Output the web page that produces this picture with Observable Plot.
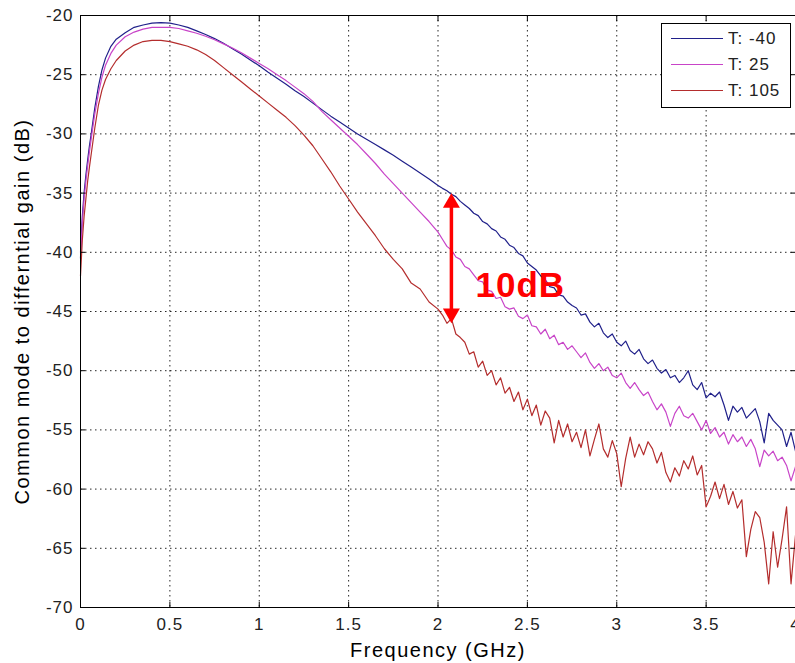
<!DOCTYPE html>
<html>
<head>
<meta charset="utf-8">
<script src="https://cdn.jsdelivr.net/npm/d3@7"></script>
<script src="https://cdn.jsdelivr.net/npm/@observablehq/plot@0.6"></script>
<style>
  html, body { margin: 0; padding: 0; background: #fff; }
  #wrap { position: relative; width: 795px; height: 663px; overflow: hidden; background: #fff;
          font-family: "Liberation Sans", Arial, sans-serif; }
  #legend { position: absolute; left: 661px; top: 23px; width: 128px; height: 83px;
            border: 1px solid #000; background: #fff; }
  .sw { position: absolute; left: 9px; width: 52px; height: 0; }
  .lb { position: absolute; left: 66px; height: 20px; line-height: 20px; font-size: 17px;
        letter-spacing: 1px; color: #222; white-space: nowrap; }
</style>
</head>
<body>
<div id="wrap"><div id="chart"></div><div id="legend"></div></div>
<script>
// ---- data ----
const freq = [
  0, 0.005, 0.01, 0.02, 0.03, 0.04, 0.05, 0.06, 0.08, 0.10, 0.12, 0.14, 0.17, 0.20,
  0.25, 0.30, 0.35, 0.40, 0.45, 0.50, 0.55, 0.60, 0.65, 0.70, 0.75, 0.80, 0.85, 0.90, 0.95, 1.00,
  1.05, 1.10, 1.15, 1.20, 1.25, 1.30, 1.35, 1.40, 1.45, 1.50, 1.55, 1.60, 1.65, 1.70, 1.75, 1.80,
  1.85, 1.90, 1.95, 2.00,
  2.025, 2.05, 2.075, 2.1, 2.125, 2.15, 2.175, 2.2, 2.225, 2.25,
  2.275, 2.3, 2.325, 2.35, 2.375, 2.4, 2.425, 2.45, 2.475, 2.5,
  2.525, 2.55, 2.575, 2.6, 2.625, 2.65, 2.675, 2.7, 2.725, 2.75,
  2.775, 2.8, 2.825, 2.85, 2.875, 2.9, 2.925, 2.95, 2.975, 3.0,
  3.025, 3.05, 3.075, 3.1, 3.125, 3.15, 3.175, 3.2, 3.225, 3.25,
  3.275, 3.3, 3.325, 3.35, 3.375, 3.4, 3.425, 3.45, 3.475, 3.5,
  3.525, 3.55, 3.575, 3.6, 3.625, 3.65, 3.675, 3.7, 3.725, 3.75,
  3.775, 3.8, 3.825, 3.85, 3.875, 3.9, 3.925, 3.95, 3.975, 4.0
];

const gainTm40 = [
  -40.5, -38.5, -37.0, -35.0, -33.5, -32.2, -31.0, -30.0, -27.8, -26.0, -24.6, -23.6, -22.6, -22.0,
  -21.45, -21.0, -20.8, -20.65, -20.6, -20.65, -20.8, -21.0, -21.3, -21.6, -21.95, -22.35, -22.8, -23.25, -23.75, -24.25,
  -24.8, -25.3, -25.8, -26.35, -26.85, -27.4, -27.95, -28.5, -29.0, -29.5, -30.0, -30.45, -30.9, -31.35, -31.8, -32.3,
  -32.8, -33.3, -33.8, -34.35,
  -34.6, -34.8, -35.1, -35.3, -35.7, -36.0, -36.3, -36.7, -36.9, -37.4,
  -37.6, -38.0, -38.2, -38.7, -38.9, -39.4, -39.6, -40.1, -40.3, -40.9,
  -41.2, -41.5, -42.0, -42.3, -42.9, -43.0, -43.6, -43.7, -44.2, -44.5,
  -44.7, -45.3, -45.2, -45.9, -46.3, -46.0, -46.8, -47.2, -46.9, -47.6,
  -47.9, -47.5, -48.3, -48.6, -48.2, -49.0, -49.4, -49.1, -49.8, -50.2,
  -49.9, -50.6, -50.4, -51.0, -50.6, -50.0, -51.2, -51.6, -51.0, -52.3,
  -51.9, -52.2, -51.8, -52.9, -54.2, -53.0, -53.5, -53.1, -54.0, -53.6,
  -53.2, -54.3, -56.1, -53.6, -54.2, -54.6, -55.0, -56.4, -55.2, -56.8
];

const gainT25 = [
  -40.0, -39.0, -37.5, -35.5, -34.0, -32.7, -31.5, -30.4, -28.3, -26.6, -25.2, -24.2, -23.2, -22.5,
  -21.8, -21.4, -21.15, -21.0, -21.0, -21.0, -21.1, -21.3, -21.5, -21.75, -22.05, -22.4, -22.75, -23.15, -23.6, -24.05,
  -24.5, -25.0, -25.5, -26.05, -26.6, -27.25, -28.1, -28.8, -29.5, -30.2, -30.9, -31.7, -32.5, -33.4, -34.2, -35.0,
  -35.8, -36.6, -37.4, -38.3,
  -38.9, -39.5, -39.8, -40.4, -40.6, -41.2, -41.4, -41.9, -42.4, -42.5,
  -43.2, -43.3, -43.9, -43.8, -44.6, -44.8, -44.7, -45.4, -45.6, -45.3,
  -46.2, -46.3, -46.9, -46.5, -47.3, -47.0, -47.8, -47.6, -48.2, -47.9,
  -48.4, -48.9, -48.5, -49.3, -49.8, -49.4, -50.0, -49.7, -50.4, -50.6,
  -50.2, -51.0, -51.5, -51.0, -51.6, -52.1, -51.8, -52.6, -53.3, -52.8,
  -53.5, -54.7, -53.6, -53.0, -53.8, -54.0, -53.6, -54.3, -55.0, -54.2,
  -55.3, -54.8, -55.6, -55.2, -56.2, -55.4, -56.0, -55.6, -56.4, -55.8,
  -56.6, -58.1, -56.7, -57.2, -56.8, -57.6, -57.3, -58.0, -59.3, -58.1
];

const gainT105 = [
  -42.0, -40.5, -39.0, -37.0, -35.5, -34.0, -32.8, -31.7, -29.5, -27.6, -26.3, -25.4, -24.5, -23.8,
  -23.0, -22.5, -22.2, -22.1, -22.1, -22.2, -22.4, -22.6, -22.9, -23.3, -23.8, -24.4, -25.0, -25.6, -26.2, -26.8,
  -27.4, -28.0, -28.6, -29.3, -30.1, -31.0, -32.1, -33.2, -34.4, -35.5, -36.6, -37.6, -38.6, -39.7, -40.6, -41.4,
  -42.6, -43.1, -44.2, -44.8,
  -45.3, -46.0, -45.6, -46.9, -47.2, -47.6, -48.6, -48.4, -49.7, -49.2,
  -50.4, -50.0, -51.2, -50.6, -51.9, -51.4, -52.6, -51.8, -53.3, -52.4,
  -53.8, -52.9, -54.6, -53.4, -54.0, -56.1, -54.2, -55.6, -54.5, -56.0,
  -55.2, -56.5, -55.0, -57.2, -55.8, -54.5, -56.6, -57.3, -55.9, -57.0,
  -59.8, -57.4, -55.6, -57.3, -56.2, -57.1, -56.0, -56.6, -57.8, -56.9,
  -58.6, -59.4, -58.2, -58.9, -57.6, -58.3, -57.2, -58.8, -58.0, -61.5,
  -60.6, -59.4, -60.8, -59.6, -61.3, -60.2, -61.6, -60.9, -65.7, -63.4,
  -61.9, -62.4, -64.5, -68.0, -63.6, -66.6, -64.2, -61.5, -68.0, -63.9
];

const seriesLabels = ["T: -40", "T: 25", "T: 105"];
const seriesColors = ["#20208a", "#c844c8", "#b42d2d"];
const xTicks = [0, 0.5, 1, 1.5, 2, 2.5, 3, 3.5, 4];
const yTicks = [-20, -25, -30, -35, -40, -45, -50, -55, -60, -65, -70];
const xLabel = "Frequency (GHz)";
const yLabel = "Common mode to differntial gain (dB)";
const noteX = [2.075];
const noteFrom = -35;
const noteTo = -46;
const noteText = ["10dB"];
const noteTextX = 2.21;
const noteTextY = -42.8;

// ---- build ----
const seriesValues = [gainTm40, gainT25, gainT105];
const rows = seriesLabels.flatMap((s, i) => freq.map((f, j) => ({f, g: seriesValues[i][j], s})));

const chart = Plot.plot({
  width: 795,
  height: 663,
  marginLeft: 80,
  marginRight: 0,
  marginTop: 15,
  marginBottom: 56,
  style: {fontFamily: "'Liberation Sans', Arial, sans-serif", fontSize: "17px", letterSpacing: "1px",
          color: "#222", background: "#fff", overflow: "visible"},
  x: {domain: [0, 4]},
  y: {domain: [-70, -20]},
  color: {domain: seriesLabels, range: seriesColors},
  marks: [
    Plot.gridX(xTicks, {stroke: "#000", strokeOpacity: 0.85, strokeDasharray: "1.5,3.5"}),
    Plot.gridY(yTicks, {stroke: "#000", strokeOpacity: 0.85, strokeDasharray: "1.5,3.5"}),
    Plot.line(rows, {x: "f", y: "g", z: "s", stroke: "s", strokeWidth: 1.2}),
    Plot.frame({stroke: "#000"}),
    Plot.axisX(xTicks, {anchor: "bottom", tickSize: -5, tickPadding: 15, tickFormat: d => String(d), label: null, stroke: "#000"}),
    Plot.axisX(xTicks, {anchor: "top", tickSize: -5, tickFormat: () => "", label: null, stroke: "#000"}),
    Plot.axisY(yTicks, {anchor: "left", tickSize: -5, tickPadding: 12, tickFormat: d => String(d), label: null, stroke: "#000"}),
    Plot.axisY(yTicks, {anchor: "right", tickSize: -5, tickFormat: () => "", label: null, stroke: "#000"}),
    Plot.text([xLabel], {frameAnchor: "bottom", dy: 43, lineAnchor: "middle", textAnchor: "middle", text: d => d, fontSize: 20, fill: "#000"}),
    Plot.text([yLabel], {frameAnchor: "left", dx: -58, rotate: -90, lineAnchor: "middle", textAnchor: "middle", text: d => d, fontSize: 20, fill: "#000"}),
    Plot.ruleX(noteX, {x: d => d, y1: noteFrom, y2: noteTo, stroke: "#f00", strokeWidth: 3.5, insetTop: 8, insetBottom: 8}),
    Plot.dot(noteX, {x: d => d, y: noteFrom, symbol: "triangle", r: 6.3, fill: "#f00", stroke: "none", dy: 9.85}),
    Plot.dot(noteX, {x: d => d, y: noteTo, symbol: "triangle", r: 6.3, fill: "#f00", stroke: "none", rotate: 180, dy: -9.85}),
    Plot.text(noteText, {x: noteTextX, y: noteTextY, text: d => d, fill: "#f00", fontSize: 35, fontWeight: "bold", textAnchor: "start"})
  ]
});
chart.querySelectorAll("text").forEach(t => {
  if (t.textContent === yLabel || t.textContent === xLabel) t.style.letterSpacing = "1.5px";
});
document.getElementById("chart").appendChild(chart);

// legend
const legend = document.getElementById("legend");
const rowCenters = [15, 41, 67];
seriesLabels.forEach((lab, i) => {
  const sw = document.createElement("div");
  sw.className = "sw";
  sw.style.top = (rowCenters[i] - 0.6) + "px";
  sw.style.borderTop = "1.3px solid " + seriesColors[i];
  legend.appendChild(sw);
  const lb = document.createElement("div");
  lb.className = "lb";
  lb.style.top = (rowCenters[i] - 10) + "px";
  lb.textContent = lab;
  legend.appendChild(lb);
});
</script>
</body>
</html>
